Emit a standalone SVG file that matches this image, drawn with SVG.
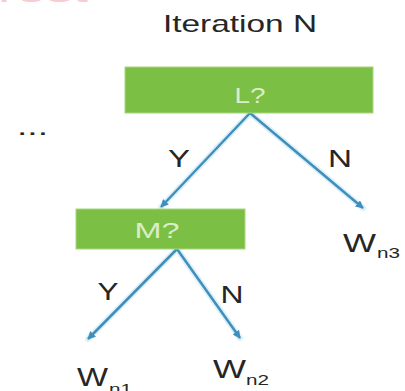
<svg xmlns="http://www.w3.org/2000/svg" width="405" height="391" viewBox="0 0 405 391">
  <style>
    .lbl { font-family: "Liberation Sans", Arial, sans-serif; fill: #262626; }
    .box { fill: #7cbf45; stroke: #a9d67e; stroke-width: 1; }
    .boxtxt { font-family: "Liberation Sans", Arial, sans-serif; fill: #d9eec6; font-size: 22px; }
    .glow { stroke: #9fd3ee; stroke-width: 6; stroke-opacity: 0.35; fill: none; stroke-linecap: round; }
    .edge { stroke: #3f8fbd; stroke-width: 2.5; fill: none; }
  </style>
  <defs>
    <marker id="arr" viewBox="0 0 10 10" refX="9" refY="5" markerWidth="8" markerHeight="8" markerUnits="userSpaceOnUse" orient="auto">
      <path d="M0,0 L10,5 L0,10 Z" fill="#3f8fbd"/>
    </marker>
  </defs>
  <rect width="405" height="391" fill="#ffffff"/>

  <text x="-2" y="1.5" font-family="Liberation Sans, Arial, sans-serif" font-size="30" fill="#e04a5a" fill-opacity="0.3" textLength="90" lengthAdjust="spacingAndGlyphs">rest</text>

  <text class="lbl" x="163" y="32" font-size="24" textLength="154" lengthAdjust="spacingAndGlyphs">Iteration N</text>
  <text class="lbl" x="17" y="135" font-size="24" fill="#555" textLength="31" lengthAdjust="spacingAndGlyphs">...</text>

  <g id="edges">
    <path class="glow" d="M250,113 L161,207 M250,113 L363,208 M177,249 L88,339 M177,249 L240,338"/>
    <path class="edge" d="M250,113 L161,207" marker-end="url(#arr)"/>
    <path class="edge" d="M250,113 L363,208" marker-end="url(#arr)"/>
    <path class="edge" d="M177,249 L88,339" marker-end="url(#arr)"/>
    <path class="edge" d="M177,249 L240,338" marker-end="url(#arr)"/>
    <text class="lbl" x="179" y="167" font-size="24" text-anchor="middle" textLength="22" lengthAdjust="spacingAndGlyphs">Y</text>
    <text class="lbl" x="340" y="167" font-size="24" text-anchor="middle" textLength="24" lengthAdjust="spacingAndGlyphs">N</text>
    <text class="lbl" x="108" y="300" font-size="24" text-anchor="middle" textLength="21" lengthAdjust="spacingAndGlyphs">Y</text>
    <text class="lbl" x="232" y="303" font-size="24" text-anchor="middle" textLength="23" lengthAdjust="spacingAndGlyphs">N</text>
  </g>

  <g id="node-L">
    <rect class="box" x="125" y="67" width="248" height="46"/>
    <text class="boxtxt" x="250" y="103" text-anchor="middle" textLength="31" lengthAdjust="spacingAndGlyphs">L?</text>
  </g>

  <g id="node-M">
    <rect class="box" x="76" y="209" width="169" height="40"/>
    <text class="boxtxt" x="157" y="238" text-anchor="middle" textLength="45" lengthAdjust="spacingAndGlyphs">M?</text>
  </g>

  <g id="leaf-wn3">
    <text class="lbl" x="343" y="252" font-size="25" textLength="33" lengthAdjust="spacingAndGlyphs">W</text>
    <text class="lbl" x="377" y="258" font-size="14" textLength="23" lengthAdjust="spacingAndGlyphs">n3</text>
  </g>

  <g id="leaf-wn2">
    <text class="lbl" x="213" y="378" font-size="25" textLength="33" lengthAdjust="spacingAndGlyphs">W</text>
    <text class="lbl" x="246" y="385" font-size="14" textLength="23" lengthAdjust="spacingAndGlyphs">n2</text>
  </g>

  <g id="leaf-wn1">
    <text class="lbl" x="77" y="386" font-size="25" textLength="31" lengthAdjust="spacingAndGlyphs">W</text>
    <text class="lbl" x="109" y="394" font-size="14" textLength="23" lengthAdjust="spacingAndGlyphs">n1</text>
  </g>
</svg>
